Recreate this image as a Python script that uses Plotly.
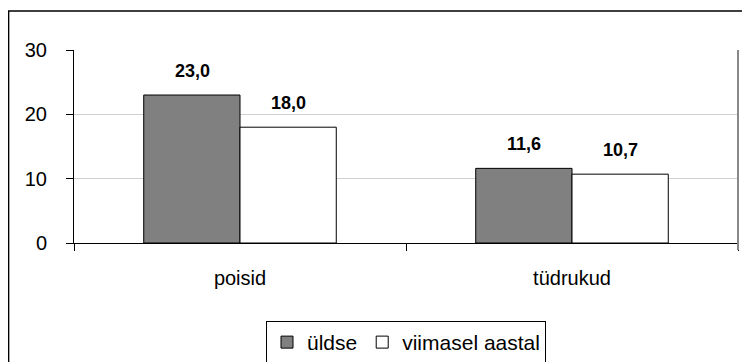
import plotly.graph_objects as go

categories = ["poisid", "tüdrukud"]
series_names = ["üldse", "viimasel aastal"]
uldse = [23.0, 11.6]
viimasel = [18.0, 10.7]
y_ticks = [0, 10, 20, 30]

FONT = "Liberation Sans, Arial, sans-serif"

fig = go.Figure()
fig.add_trace(go.Bar(x=categories, y=uldse, name=series_names[0],
                     marker=dict(color="#808080", line=dict(color="black", width=1))))
fig.add_trace(go.Bar(x=categories, y=viimasel, name=series_names[1],
                     marker=dict(color="white", line=dict(color="black", width=1))))

def fmt(v):
    return f"{v:.1f}".replace(".", ",")

for vals, xs in ((uldse, -48), (viimasel, 48)):
    for c, v in zip(categories, vals):
        fig.add_annotation(x=c, y=v, text=f"<b>{fmt(v)}</b>", showarrow=False,
                           xshift=xs, yshift=12, yanchor="bottom",
                           font=dict(family=FONT, size=18, color="black"))

# outer chart border
fig.add_shape(type="rect", xref="paper", yref="paper",
              x0=-0.0985, x1=1.3, y0=-1.0, y1=1.202,
              line=dict(color="black", width=1.5), layer="below")
# right plot-area edge
fig.add_shape(type="line", xref="paper", yref="paper",
              x0=1, x1=1, y0=-0.036, y1=1,
              line=dict(color="#888888", width=2))

fig.update_layout(
    template="none",
    width=742, height=354,
    margin=dict(l=66, r=12, t=42, b=119, autoexpand=False),
    paper_bgcolor="white", plot_bgcolor="white",
    barmode="group", bargap=0.42, bargroupgap=0,
    font=dict(family=FONT, size=18, color="black"),
    showlegend=True,
    legend=dict(orientation="h", x=0.5, xanchor="center", y=-0.404, yanchor="top",
                bordercolor="black", borderwidth=1, font=dict(size=21),
                itemwidth=30, traceorder="normal"),
)
fig.update_yaxes(range=[0, 30], tickvals=y_ticks, showgrid=True, gridcolor="#d0d0d0",
                 gridwidth=1, showline=True, linecolor="black", linewidth=1,
                 ticks="outside", ticklen=7, tickcolor="black", ticklabelstandoff=15,
                 zeroline=False, tickfont=dict(size=20), automargin=False)
fig.update_xaxes(showline=True, linecolor="black", linewidth=1, ticks="outside",
                 tickson="boundaries", ticklen=7, tickcolor="black", showgrid=False,
                 ticklabelstandoff=17, tickfont=dict(size=20), automargin=False)

fig.write_html("out.html")
